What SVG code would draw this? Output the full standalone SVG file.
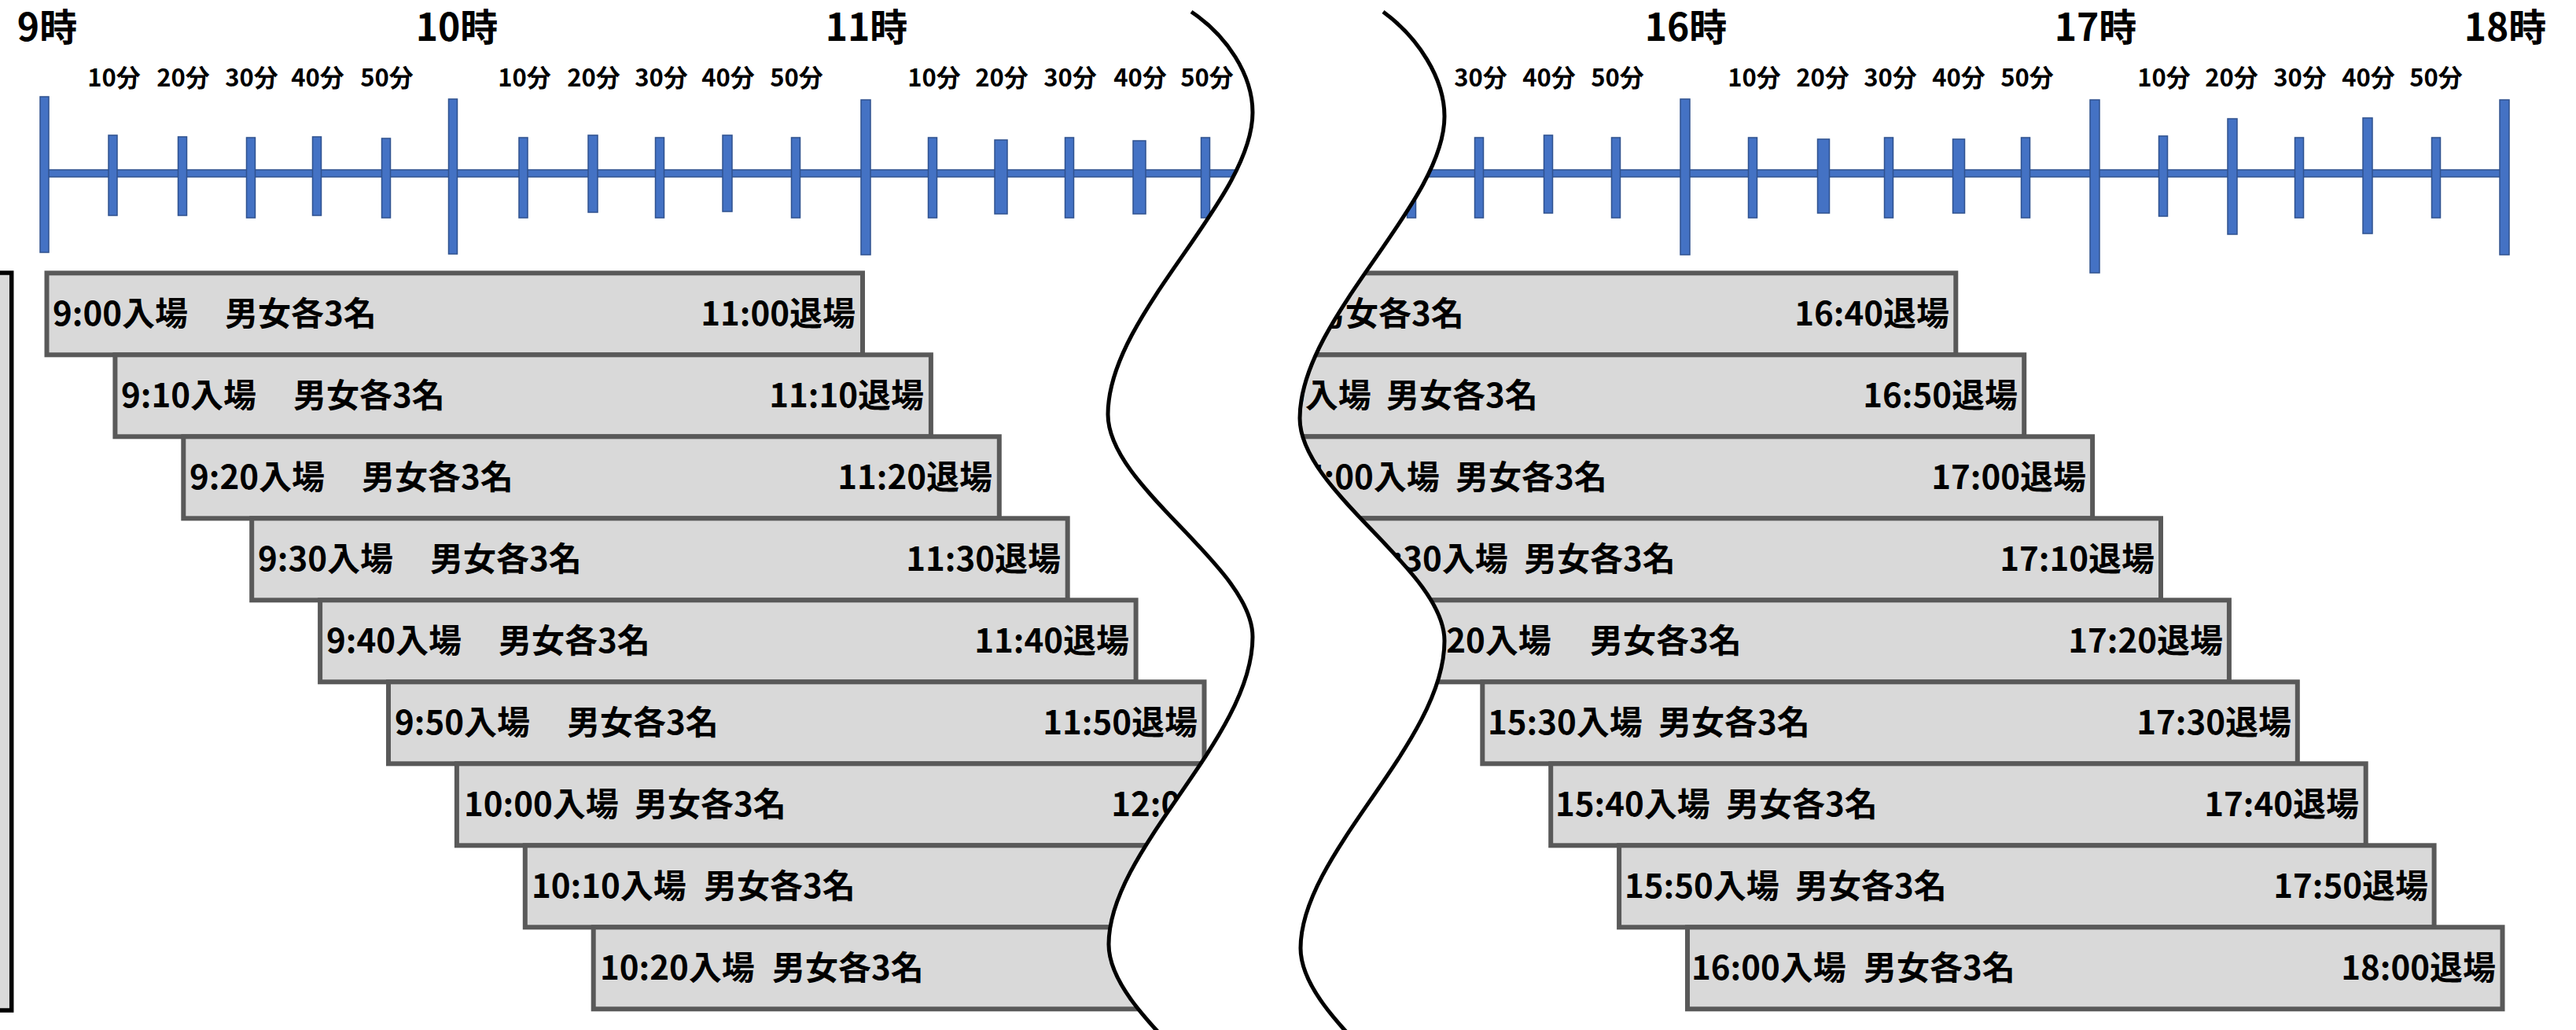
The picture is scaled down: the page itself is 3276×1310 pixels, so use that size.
<svg xmlns="http://www.w3.org/2000/svg" width="3276" height="1310" viewBox="0 0 3276 1310">
<style>
.tk{fill:#4472C4;stroke:#2F528F;stroke-width:1.5}
.bx{fill:#D9D9D9;stroke:#595959;stroke-width:6}
.t{font-family:"Noto Sans CJK JP","Noto Sans CJK SC",sans-serif;font-weight:700;fill:#000}
.hr{font-size:48px;text-anchor:middle}
.mn{font-size:31px;text-anchor:middle}
.b{font-size:42px}
.e{text-anchor:end}
.wl{fill:none;stroke:#000;stroke-width:5}
</style>
<defs>
<clipPath id="clipL"><path d="M-100,-100 L1515,-100 L1515,15 C1560,45 1593,95 1593,143 C1593,255 1409,400 1409,527 C1409,620 1593,720 1593,810 C1593,940 1410,1080 1410,1201 C1410,1294 1594,1394 1594,1484 L-100,1484 Z"/></clipPath>
<clipPath id="clipR"><path d="M1759,-100 L3400,-100 L3400,1500 L1838,1489 C1838,1399 1654,1299 1654,1206 C1654,1085 1837,945 1837,815 C1837,725 1653,625 1653,532 C1653,405 1837,260 1837,148 C1837,100 1804,48 1759,15 Z"/></clipPath>
</defs>
<rect width="3276" height="1310" fill="#fff"/>
<g id="left-frame"><rect x="-40" y="347" width="54.7" height="938" fill="#D9D9D9" stroke="#000" stroke-width="5.5"/></g>
<g id="axis">
<rect class="tk" x="56" y="216" width="3134" height="9"/>
<rect class="tk" x="51" y="123" width="11" height="198"/>
<rect class="tk" x="138" y="172" width="11" height="102"/>
<rect class="tk" x="226.5" y="174" width="11" height="100"/>
<rect class="tk" x="313.5" y="175" width="11" height="102"/>
<rect class="tk" x="397.5" y="174" width="11" height="100"/>
<rect class="tk" x="485.5" y="176" width="11" height="101"/>
<rect class="tk" x="570.5" y="126" width="11" height="197"/>
<rect class="tk" x="660" y="175" width="11" height="102"/>
<rect class="tk" x="748" y="172" width="12" height="98"/>
<rect class="tk" x="833.5" y="175" width="11" height="102"/>
<rect class="tk" x="919" y="172" width="12" height="97"/>
<rect class="tk" x="1006.5" y="175" width="11" height="102"/>
<rect class="tk" x="1095" y="127" width="12" height="197"/>
<rect class="tk" x="1180.5" y="175" width="11" height="102"/>
<rect class="tk" x="1265" y="178" width="16" height="94"/>
<rect class="tk" x="1354.5" y="175" width="11" height="102"/>
<rect class="tk" x="1441" y="179" width="16" height="93"/>
<rect class="tk" x="1527.5" y="175" width="11" height="102"/>
<rect class="tk" x="1789.5" y="175" width="11" height="102"/>
<rect class="tk" x="1875.5" y="175" width="11" height="102"/>
<rect class="tk" x="1963.5" y="172" width="11" height="99"/>
<rect class="tk" x="2049.5" y="175" width="11" height="102"/>
<rect class="tk" x="2137" y="126" width="12" height="198"/>
<rect class="tk" x="2223.5" y="175" width="11" height="102"/>
<rect class="tk" x="2311.5" y="177" width="15" height="94"/>
<rect class="tk" x="2396.5" y="175" width="11" height="102"/>
<rect class="tk" x="2483.5" y="177" width="15" height="94"/>
<rect class="tk" x="2570.5" y="175" width="11" height="102"/>
<rect class="tk" x="2658" y="127" width="12" height="220"/>
<rect class="tk" x="2745.5" y="173" width="11" height="102"/>
<rect class="tk" x="2833" y="151" width="12" height="147"/>
<rect class="tk" x="2918.5" y="175" width="11" height="102"/>
<rect class="tk" x="3005" y="150" width="12" height="147"/>
<rect class="tk" x="3092.5" y="175" width="11" height="102"/>
<rect class="tk" x="3179" y="127" width="12" height="197"/>
</g>
<g id="hour-labels" class="t hr">
<text x="60" y="52">9時</text>
<text x="581" y="52">10時</text>
<text x="1102" y="52">11時</text>
<text x="2144" y="52">16時</text>
<text x="2665" y="52">17時</text>
<text x="3186" y="52">18時</text>
</g>
<g id="minute-labels" class="t mn">
<text x="145" y="110">10分</text><text x="233" y="110">20分</text><text x="320" y="110">30分</text><text x="404" y="110">40分</text><text x="492" y="110">50分</text>
<text x="667" y="110">10分</text><text x="755" y="110">20分</text><text x="841" y="110">30分</text><text x="926" y="110">40分</text><text x="1013" y="110">50分</text>
<text x="1188" y="110">10分</text><text x="1274" y="110">20分</text><text x="1361" y="110">30分</text><text x="1450" y="110">40分</text><text x="1535" y="110">50分</text>
<text x="1883" y="110">30分</text><text x="1970" y="110">40分</text><text x="2057" y="110">50分</text>
<text x="2231" y="110">10分</text><text x="2318" y="110">20分</text><text x="2404" y="110">30分</text><text x="2491" y="110">40分</text><text x="2578" y="110">50分</text>
<text x="2752" y="110">10分</text><text x="2838" y="110">20分</text><text x="2925" y="110">30分</text><text x="3012" y="110">40分</text><text x="3098" y="110">50分</text>
</g>
<g id="slots-left" clip-path="url(#clipL)">
<g id="slot-0900"><rect class="bx" x="59.5" y="347.3" width="1037.5" height="104"/><text class="t b" y="414"><tspan x="67">9:00入場</tspan><tspan x="286">男女各3名</tspan></text><text class="t b e" x="1088" y="414">11:00退場</text></g>
<g id="slot-0910"><rect class="bx" x="146.4" y="451.3" width="1037.5" height="104"/><text class="t b" y="518"><tspan x="154">9:10入場</tspan><tspan x="373">男女各3名</tspan></text><text class="t b e" x="1175" y="518">11:10退場</text></g>
<g id="slot-0920"><rect class="bx" x="233.3" y="555.3" width="1037.5" height="104"/><text class="t b" y="622"><tspan x="241">9:20入場</tspan><tspan x="460">男女各3名</tspan></text><text class="t b e" x="1262" y="622">11:20退場</text></g>
<g id="slot-0930"><rect class="bx" x="320.2" y="659.3" width="1037.5" height="104"/><text class="t b" y="726"><tspan x="328">9:30入場</tspan><tspan x="547">男女各3名</tspan></text><text class="t b e" x="1349" y="726">11:30退場</text></g>
<g id="slot-0940"><rect class="bx" x="407.1" y="763.3" width="1037.5" height="104"/><text class="t b" y="830"><tspan x="415">9:40入場</tspan><tspan x="634">男女各3名</tspan></text><text class="t b e" x="1436" y="830">11:40退場</text></g>
<g id="slot-0950"><rect class="bx" x="494" y="867.3" width="1037.5" height="104"/><text class="t b" y="934"><tspan x="502">9:50入場</tspan><tspan x="721">男女各3名</tspan></text><text class="t b e" x="1523" y="934">11:50退場</text></g>
<g id="slot-1000"><rect class="bx" x="580.9" y="971.3" width="1037.5" height="104"/><text class="t b" y="1038"><tspan x="590">10:00入場</tspan><tspan x="807">男女各3名</tspan></text><text class="t b e" x="1610" y="1038">12:00退場</text></g>
<g id="slot-1010"><rect class="bx" x="667.8" y="1075.3" width="1037.5" height="104"/><text class="t b" y="1142"><tspan x="676">10:10入場</tspan><tspan x="895">男女各3名</tspan></text></g>
<g id="slot-1020"><rect class="bx" x="754.7" y="1179.3" width="1037.5" height="104"/><text class="t b" y="1246"><tspan x="763">10:20入場</tspan><tspan x="982">男女各3名</tspan></text></g>
</g>
<g id="slots-right" clip-path="url(#clipR)">
<g id="slot-1440"><rect class="bx" x="1450.8" y="347.3" width="1036.5" height="104"/><text class="t b" x="1669" y="414">男女各3名</text><text class="t b e" x="2479" y="414">16:40退場</text></g>
<g id="slot-1450"><rect class="bx" x="1537.7" y="451.3" width="1036.5" height="104"/><text class="t b" y="518"><tspan x="1547">14:50入場</tspan><tspan x="1763">男女各3名</tspan></text><text class="t b e" x="2566" y="518">16:50退場</text></g>
<g id="slot-1500"><rect class="bx" x="1624.6" y="555.3" width="1036.5" height="104"/><text class="t b" y="622"><tspan x="1634">15:00入場</tspan><tspan x="1851">男女各3名</tspan></text><text class="t b e" x="2653" y="622">17:00退場</text></g>
<g id="slot-1510"><rect class="bx" x="1711.5" y="659.3" width="1036.5" height="104"/><text class="t b" y="726"><tspan x="1721">15:30入場</tspan><tspan x="1938">男女各3名</tspan></text><text class="t b e" x="2740" y="726">17:10退場</text></g>
<g id="slot-1520"><rect class="bx" x="1798.4" y="763.3" width="1036.5" height="104"/><text class="t b" y="830"><tspan x="1776">15:20入場</tspan><tspan x="2022">男女各3名</tspan></text><text class="t b e" x="2827" y="830">17:20退場</text></g>
<g id="slot-1530"><rect class="bx" x="1885.3" y="867.3" width="1036.5" height="104"/><text class="t b" y="934"><tspan x="1892">15:30入場</tspan><tspan x="2109">男女各3名</tspan></text><text class="t b e" x="2914" y="934">17:30退場</text></g>
<g id="slot-1540"><rect class="bx" x="1972.2" y="971.3" width="1036.5" height="104"/><text class="t b" y="1038"><tspan x="1978">15:40入場</tspan><tspan x="2195">男女各3名</tspan></text><text class="t b e" x="3000" y="1038">17:40退場</text></g>
<g id="slot-1550"><rect class="bx" x="2059.1" y="1075.3" width="1036.5" height="104"/><text class="t b" y="1142"><tspan x="2066">15:50入場</tspan><tspan x="2283">男女各3名</tspan></text><text class="t b e" x="3088" y="1142">17:50退場</text></g>
<g id="slot-1600"><rect class="bx" x="2146" y="1179.3" width="1036.5" height="104"/><text class="t b" y="1246"><tspan x="2151">16:00入場</tspan><tspan x="2370">男女各3名</tspan></text><text class="t b e" x="3174" y="1246">18:00退場</text></g>
</g>
<g id="break">
<path fill="#fff" d="M1515,15 C1560,45 1593,95 1593,143 C1593,255 1409,400 1409,527 C1409,620 1593,720 1593,810 C1593,940 1410,1080 1410,1201 C1410,1294 1594,1394 1594,1484 L1838,1489 C1838,1399 1654,1299 1654,1206 C1654,1085 1837,945 1837,815 C1837,725 1653,625 1653,532 C1653,405 1837,260 1837,148 C1837,100 1804,48 1759,15 Z"/>
<path class="wl" d="M1515,15 C1560,45 1593,95 1593,143 C1593,255 1409,400 1409,527 C1409,620 1593,720 1593,810 C1593,940 1410,1080 1410,1201 C1410,1294 1594,1394 1594,1484"/>
<path class="wl" d="M1759,15 C1804,48 1837,100 1837,148 C1837,260 1653,405 1653,532 C1653,625 1837,725 1837,815 C1837,945 1654,1085 1654,1206 C1654,1299 1838,1399 1838,1489"/>
</g>
</svg>
